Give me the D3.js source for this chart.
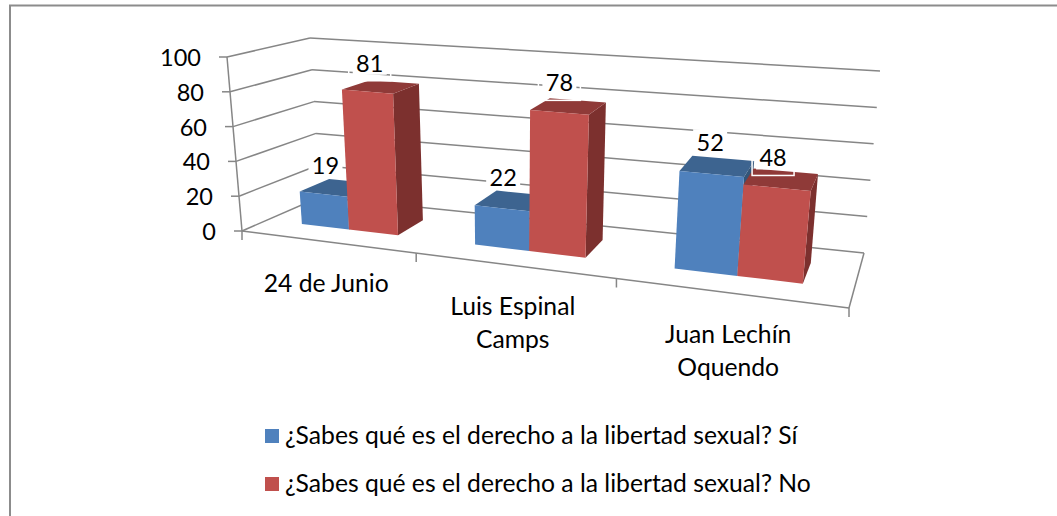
<!DOCTYPE html>
<html><head><meta charset="utf-8">
<script src="https://cdn.jsdelivr.net/npm/d3@7"></script>
<style>html,body{margin:0;padding:0;background:#fff;overflow:hidden}text{font-family:Lato,sans-serif;fill:#000}</style>
</head><body><svg id="c" width="1057" height="516"></svg>
<script>
const categories = [["24 de Junio"], ["Luis Espinal", "Camps"], ["Juan Lechín", "Oquendo"]];
const seriesNames = ["¿Sabes qué es el derecho a la libertad sexual? Sí", "¿Sabes qué es el derecho a la libertad sexual? No"];
const seriesSi = [19, 22, 52];
const seriesNo = [81, 78, 48];
const yTicks = [0, 20, 40, 60, 80, 100];
const labelOffsets = [[[-12,-23],[-11,-24]], [[-9,-24],[-9,-24]], [[-7,-24],[-8,-22]]];

const svg = d3.select("#c");
const FS = 24.7;
const faces = [{front:"#4f81bd",top:"#3d6490",side:"#335578"},{front:"#c0504d",top:"#8f3a38",side:"#7c302e"}];
const GRID = "#868686";

// Box corners: floor and h=100 plane
const C = {
  FL0:[242,231], FR0:[849,308], BR0:[864,253], BL0:[320,197],
  FL1:[227,57],  FR1:[870,106], BR1:[880,71],  BL1:[310,38]
};
const h = d3.scaleLinear().domain([0,100]).range([0,1]);
const persp = -0.195;
const uOf = t => (1+persp)*t/(1+persp*t);
const lerp = (a,b,k)=>[a[0]+(b[0]-a[0])*k, a[1]+(b[1]-a[1])*k];
function project(t, v, val){
  const u = uOf(t), k = h(val);
  const f0 = lerp(C.FL0,C.FR0,u), b0 = lerp(C.BL0,C.BR0,u);
  const f1 = lerp(C.FL1,C.FR1,u), b1 = lerp(C.BL1,C.BR1,u);
  return lerp(lerp(f0,b0,v), lerp(f1,b1,v), k);
}
const catIdx = d3.range(categories.length);
const xBand = d3.scaleBand().domain(catIdx).range([0,1]).paddingInner(1.5/3.5).paddingOuter(0.75/3.5);
const serBand = d3.scaleBand().domain([0,1]).range([0,xBand.bandwidth()]);
const V0 = 0.33, V1 = 0.72;
const path = pts => "M"+pts.map(p=>p.map(n=>n.toFixed(1)).join(",")).join("L")+"Z";
const line = (a,b,w=1.5,col=GRID)=>svg.append("line").attr("x1",a[0]).attr("y1",a[1]).attr("x2",b[0]).attr("y2",b[1]).attr("stroke",col).attr("stroke-width",w);

// frame
svg.append("path").attr("d","M10,516V5.5H1057").attr("fill","none").attr("stroke","#8c8c8c").attr("stroke-width",2);

// gridlines on walls
yTicks.forEach(d=>{
  line(project(0,0,d),project(0,1,d));
  line(project(0,1,d),project(1,1,d));
  const p = project(0,0,d);
  line([p[0]-8,p[1]],p);
  svg.append("text").attr("x",p[0]-26).attr("y",p[1]+9).attr("text-anchor","end").attr("font-size",23.5).text(d);
});
line(project(0,0,0),project(0,0,100));
line(project(0,0,0),project(1,0,0));
line(project(1,0,0),project(1,1,0));
d3.range(0,4).forEach(i=>{
  const p = project(i/3,0,0);
  line(p,[p[0],p[1]+9]);
});

// bars
const values = [seriesSi, seriesNo];
catIdx.forEach(i=>{
  [0,1].forEach(s=>{
    const val = values[s][i];
    const t0 = xBand(i)+serBand(s), t1 = t0+serBand.bandwidth();
    const col = faces[s];
    const g = svg.append("g");
    g.append("path").attr("d",path([project(t1,V0,0),project(t1,V1,0),project(t1,V1,val),project(t1,V0,val)])).attr("fill",col.side);
    g.append("path").attr("d",path([project(t0,V0,val),project(t1,V0,val),project(t1,V1,val),project(t0,V1,val)])).attr("fill",col.top);
    g.append("path").attr("d",path([project(t0,V0,0),project(t1,V0,0),project(t1,V0,val),project(t0,V0,val)])).attr("fill",col.front);
  });
});

// value labels
catIdx.forEach(i=>{
  [0,1].forEach(s=>{
    const val = values[s][i];
    const tm = xBand(i)+serBand(s)+serBand.bandwidth()/2;
    const c = project(tm,(V0+V1)/2,val);
    const off = labelOffsets[i][s];
    const x = c[0]+off[0], y = c[1]+off[1];
    svg.append("rect").attr("x",x-17).attr("y",y-13).attr("width",34).attr("height",s?25:24).attr("fill","#fff");
    if(s) svg.append("rect").attr("x",x-21).attr("y",y-13).attr("width",42).attr("height",31).attr("fill","none").attr("stroke","#fff").attr("stroke-width",1.5);
    svg.append("text").attr("x",x).attr("y",y+9).attr("text-anchor","middle").attr("font-size",23.5).text(val);
  });
});

// category labels
catIdx.forEach(i=>{
  const p = project(xBand(i)+xBand.bandwidth()/2,0,0);
  const t = svg.append("text").attr("text-anchor","middle").attr("font-size",FS);
  categories[i].forEach((ln,j)=>t.append("tspan").attr("x",p[0]).attr("y",p[1]+50+j*33).text(ln));
});

// legend
seriesNames.forEach((n,s)=>{
  const y = 429+s*48;
  svg.append("rect").attr("x",265).attr("y",y).attr("width",14).attr("height",14).attr("fill",faces[s].front);
  svg.append("text").attr("x",285).attr("y",y+15).attr("font-size",FS).text(n);
});
</script></body></html>
